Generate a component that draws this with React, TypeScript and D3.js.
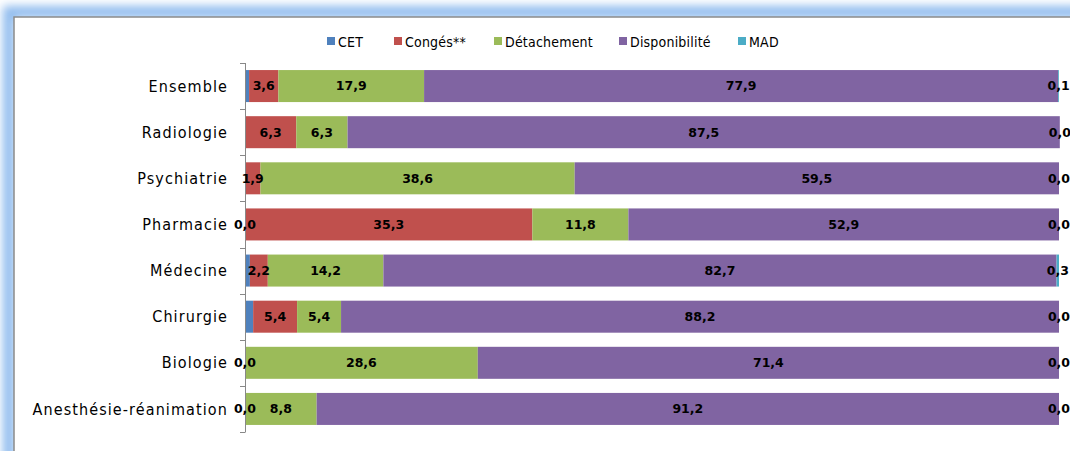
import React from "react";
import * as d3 from "d3";

const categories = [
  "Ensemble",
  "Radiologie",
  "Psychiatrie",
  "Pharmacie",
  "Médecine",
  "Chirurgie",
  "Biologie",
  "Anesthésie-réanimation",
];
const seriesNames = ["CET", "Congés**", "Détachement", "Disponibilité", "MAD"];
const cet = [0.5, 0.0, 0.0, 0.0, 0.6, 1.0, 0.0, 0.0];
const conges = [3.6, 6.3, 1.9, 35.3, 2.2, 5.4, 0.0, 0.0];
const detachement = [17.9, 6.3, 38.6, 11.8, 14.2, 5.4, 28.6, 8.8];
const disponibilite = [77.9, 87.5, 59.5, 52.9, 82.7, 88.2, 71.4, 91.2];
const mad = [0.1, 0.0, 0.0, 0.0, 0.3, 0.0, 0.0, 0.0];
const cetLabelShown = [false, false, false, true, false, false, true, true];
const colors = ["#4F81BD", "#C0504D", "#9BBB59", "#8064A2", "#4BACC6"];

const W = 1070;
const H = 451;
const FONT = "'DejaVu Sans Condensed', 'DejaVu Sans', sans-serif";

export default function App() {
  const series = [cet, conges, detachement, disponibilite, mad];
  const x = d3.scaleLinear().domain([0, 100]).range([245, 1059]);
  const y = d3
    .scaleBand<string>()
    .domain(categories)
    .range([63, 432])
    .paddingInner(0.306)
    .paddingOuter(0.153);
  const step = y.step();
  const half = (step * 0.306) / 2;

  const rows = categories.map((c, i) => {
    const obj: Record<string, number | string> = { cat: c };
    seriesNames.forEach((s, k) => (obj[s] = series[k][i]));
    return obj;
  });
  const stacked = d3.stack<Record<string, number | string>>().keys(seriesNames)(rows as any);

  const fmt = (v: number) => v.toFixed(1).replace(".", ",");

  const tickYs = categories.map((c) => (y(c) as number) - half);
  tickYs.push((y(categories[categories.length - 1]) as number) + y.bandwidth() + half);

  const legendX = [327, 394, 494, 619, 738];

  return (
    <svg
      width={W}
      height={H}
      style={{ position: "absolute", left: 0, top: 0, background: "#fff" }}
    >
      <defs>
        <filter id="glow" x="-5%" y="-10%" width="110%" height="120%">
          <feGaussianBlur stdDeviation="5" />
        </filter>
      </defs>
      <rect x={0} y={0} width={W} height={H} fill="#fff" />
      <rect
        x={9}
        y={12}
        width={W + 40}
        height={H + 40}
        fill="none"
        stroke="#8fbbee"
        strokeWidth={12}
        filter="url(#glow)"
      />
      <rect x={14} y={17} width={W + 40} height={H + 40} fill="#fff" stroke="#8a8a8a" strokeWidth={1.5} />

      {/* legend */}
      {seriesNames.map((s, k) => (
        <g key={s}>
          <rect x={legendX[k]} y={37} width={8} height={8} fill={colors[k]} />
          <text
            x={legendX[k] + 11}
            y={47}
            fontFamily={FONT}
            fontSize={14}
            letterSpacing={0.2}
            fill="#000"
          >
            {s}
          </text>
        </g>
      ))}

      {/* bars */}
      {stacked.map((layer, k) => (
        <g key={layer.key} fill={colors[k]}>
          {layer.map((d, i) => (
            <rect
              key={i}
              x={x(d[0])}
              y={y(categories[i])}
              width={Math.max(0, x(d[1]) - x(d[0]))}
              height={y.bandwidth()}
            />
          ))}
        </g>
      ))}

      {/* axis */}
      <g stroke="#888" strokeWidth={1}>
        <line x1={245.5} x2={245.5} y1={tickYs[0]} y2={tickYs[tickYs.length - 1]} />
        {tickYs.map((t, i) => (
          <line key={i} x1={240} x2={245.5} y1={Math.round(t) + 0.5} y2={Math.round(t) + 0.5} />
        ))}
      </g>

      {/* category labels */}
      {categories.map((c) => (
        <text
          key={c}
          x={228}
          y={(y(c) as number) + y.bandwidth() / 2}
          dy="0.35em"
          textAnchor="end"
          fontFamily={FONT}
          fontSize={16}
          letterSpacing={1.1}
          fill="#000"
        >
          {c}
        </text>
      ))}

      {/* data labels */}
      {stacked.map((layer, k) =>
        layer.map((d, i) => {
          const v = series[k][i];
          let show = true;
          if (k === 0) show = cetLabelShown[i];
          if (k === 1) show = v > 0;
          if (!show) return null;
          return (
            <text
              key={`${k}-${i}`}
              x={(x(d[0]) + x(d[1])) / 2}
              y={(y(categories[i]) as number) + y.bandwidth() / 2}
              dy="0.35em"
              textAnchor="middle"
              fontFamily="'DejaVu Sans', sans-serif"
              fontWeight="bold"
              fontSize={12.5}
              fill="#000"
            >
              {fmt(v)}
            </text>
          );
        })
      )}
    </svg>
  );
}
